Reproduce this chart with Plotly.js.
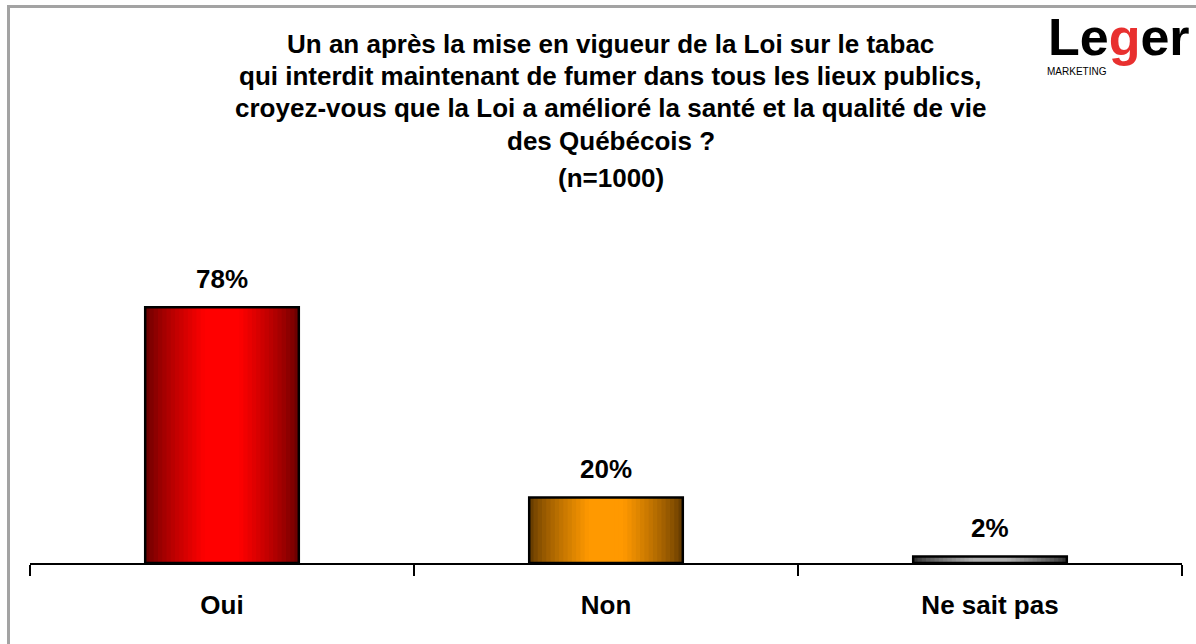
<!DOCTYPE html>
<html>
<head>
<meta charset="utf-8">
<script src="https://cdn.plot.ly/plotly-3.0.1.min.js"></script>
<style>
  html, body { margin: 0; padding: 0; background: #fff; }
  #wrap { position: relative; width: 1196px; height: 644px; overflow: hidden; }
  #chart { position: absolute; left: 0; top: 0; width: 1196px; height: 644px; }
  #frame { position: absolute; left: 7px; top: 5px; right: -10px; bottom: -10px;
           border-left: 3px solid #a3a3a3; border-top: 3px solid #a3a3a3; pointer-events: none; }
</style>
</head>
<body>
<div id="wrap">
  <div id="chart"></div>
  <div id="frame"></div>
</div>
<script>
// ---- data ----
const categories = ["Oui", "Non", "Ne sait pas"];
const values = [78, 20, 2];
const valueLabels = ["78%", "20%", "2%"];
const titleLines = [
  "Un an après la mise en vigueur de la Loi sur le tabac",
  "qui interdit maintenant de fumer dans tous les lieux publics,",
  "croyez-vous que la Loi a amélioré la santé et la qualité de vie",
  "des Québécois ?",
  "(n=1000)"
];

// ---- styles ----
const edgeColors = [[110, 0, 0], [105, 62, 0], [50, 50, 50]];
const centerColors = [[255, 0, 0], [255, 153, 0], [175, 175, 175]];
const barWidth = 0.4;
const layers = 18;
const fontFamily = "Liberation Sans, Arial, sans-serif";
const textSize = 26;

function mix(a, b, t) {
  return "rgb(" + a.map((v, i) => Math.round(v + (b[i] - v) * t)).join(",") + ")";
}

const traces = [];
for (let k = 0; k < layers; k++) {
  const f = k / layers;               // 0 at outer edge
  const t = Math.pow(f / 0.75 > 1 ? 1 : f / 0.75, 0.8);
  traces.push({
    type: "bar",
    x: categories,
    y: values,
    width: categories.map(() => barWidth * (1 - f)),
    marker: { color: categories.map((c, i) => mix(edgeColors[i], centerColors[i], t)), line: { width: 0 } },
    hoverinfo: "skip",
    showlegend: false
  });
}
// outline
traces.push({
  type: "bar",
  x: categories,
  y: values,
  width: categories.map(() => barWidth),
  marker: { color: "rgba(0,0,0,0)", line: { color: "#000", width: 2.5 } },
  hoverinfo: "skip",
  showlegend: false
});

// title line positions (pixels from top) converted to paper coords
const plotTop = 235, plotBottom = 563;
const plotH = plotBottom - plotTop;
const titleY = [44, 76, 108, 141, 178];
const annotations = [];
titleLines.forEach((line, i) => {
  annotations.push({
    xref: "paper", yref: "paper",
    x: 0.504, y: (plotBottom - titleY[i]) / plotH,
    xanchor: "center", yanchor: "middle",
    text: "<b>" + line + "</b>",
    showarrow: false,
    font: { family: fontFamily, size: textSize, color: "#000" }
  });
});
// value labels above bars
categories.forEach((c, i) => {
  annotations.push({
    x: c, y: values[i], xref: "x", yref: "y",
    text: "<b>" + valueLabels[i] + "</b>",
    showarrow: false, yanchor: "middle", yshift: 28,
    font: { family: fontFamily, size: textSize, color: "#000" }
  });
});
// logo
const plotL = 30, plotW = 1182 - 30;
annotations.push({
  xref: "paper", yref: "paper",
  x: (1046 - plotL) / plotW, y: (plotBottom - 37) / plotH,
  xanchor: "left", yanchor: "middle",
  text: "<b>Le<span style='color:#e8302f'>g</span>er</b>",
  showarrow: false,
  font: { family: fontFamily, size: 52, color: "#000" }
});
annotations.push({
  xref: "paper", yref: "paper",
  x: (1045 - plotL) / plotW, y: (plotBottom - 71) / plotH,
  xanchor: "left", yanchor: "middle",
  text: "MARKETING",
  showarrow: false,
  font: { family: "Liberation Sans Narrow, Liberation Sans, Arial, sans-serif", size: 10, color: "#000" }
});

const layout = {
  width: 1196, height: 644,
  margin: { l: 30, r: 14, t: plotTop, b: 644 - plotBottom, pad: 0 },
  paper_bgcolor: "#fff", plot_bgcolor: "rgba(0,0,0,0)",
  barmode: "overlay",
  showlegend: false,
  xaxis: {
    type: "category",
    range: [-0.5, 2.5],
    showline: true, linecolor: "#000", linewidth: 2,
    ticks: "outside", tickson: "boundaries", ticklen: 11, tickwidth: 2, tickcolor: "#000",
    showgrid: false, zeroline: false,
    ticklabelstandoff: 18,
    tickfont: { family: fontFamily, size: textSize, color: "#000", weight: "bold" },
    fixedrange: true
  },
  yaxis: {
    range: [0, 100],
    visible: false,
    showgrid: false, zeroline: false,
    fixedrange: true
  },
  annotations: annotations
};

Plotly.newPlot("chart", traces, layout, { displayModeBar: false, staticPlot: true });
</script>
</body>
</html>
